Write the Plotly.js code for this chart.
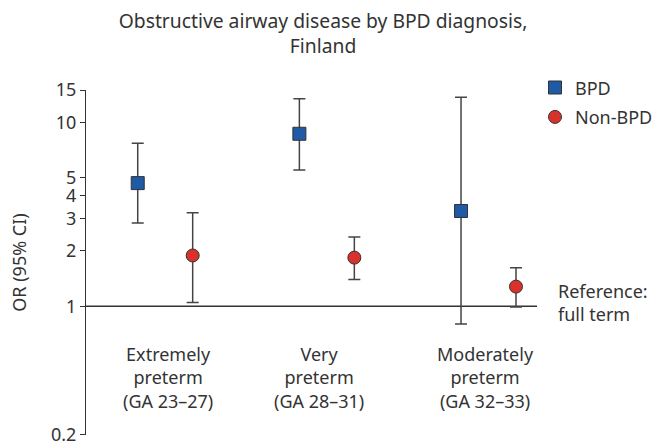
<!DOCTYPE html>
<html>
<head>
<meta charset="utf-8">
<script src="https://cdn.plot.ly/plotly-3.0.1.min.js"></script>
<style>
html,body{margin:0;padding:0;background:#fff;}
#chart{width:654px;height:443px;}
</style>
</head>
<body>
<div id="chart"></div>
<script>
// Data
const categories = ["Extremely<br>preterm<br>(GA 23–27)", "Very<br>preterm<br>(GA 28–31)", "Moderately<br>preterm<br>(GA 32–33)"];
const seriesNames = ["BPD", "Non-BPD"];
const bpdOR = [4.68, 8.68, 3.30];
const bpdUpper = [7.72, 13.45, 13.7];
const bpdLower = [2.84, 5.51, 0.80];
const nonBpdOR = [1.89, 1.84, 1.28];
const nonBpdUpper = [3.23, 2.38, 1.62];
const nonBpdLower = [1.05, 1.40, 0.99];
const yTickVals = [0.2, 1, 2, 3, 4, 5, 10, 15];
const yTickText = ["0.2", "1", "2", "3", "4", "5", "10", "15"];
const referenceValue = 1;

const FONT = "'Noto Sans', 'Source Sans Pro', sans-serif";
const TXT = "#333333";
const OFFSET = 0.17;
const LABEL_SHIFT = [3, -8, -3]; // small pixel nudges of the category captions

const idx = categories.map((_, i) => i);

function trace(name, y, up, lo, dx, symbol, color) {
  return {
    type: "scatter",
    mode: "markers",
    name: name,
    legendgroup: name,
    x: idx.map(i => i + dx),
    y: y,
    error_y: {
      type: "data",
      symmetric: false,
      array: y.map((v, i) => up[i] - v),
      arrayminus: y.map((v, i) => v - lo[i]),
      color: "#444444",
      thickness: 1.5,
      width: 6
    },
    marker: {symbol: symbol, size: 13, color: color, line: {color: "#333333", width: 1}},
    hoverinfo: "x+y"
  };
}

const data = [
  trace(seriesNames[0], bpdOR, bpdUpper, bpdLower, -OFFSET, "square", "#1f5aa6"),
  trace(seriesNames[1], nonBpdOR, nonBpdUpper, nonBpdLower, OFFSET, "circle", "#d9322d")
];

const annotations = categories.map((c, i) => ({
  x: i, xref: "x", y: 0.275, yref: "paper", yanchor: "top", xanchor: "center",
  xshift: LABEL_SHIFT[i],
  text: c, showarrow: false, align: "center",
  font: {family: FONT, size: 18, color: TXT}
}));
annotations.push({
  x: 1.042, xref: "paper", y: 0.384, yref: "paper", xanchor: "left", yanchor: "middle",
  text: "Reference:<br>full term", showarrow: false, align: "left",
  font: {family: FONT, size: 18, color: TXT}
});

const layout = {
  width: 654, height: 443,
  margin: {l: 86, r: 117, t: 90, b: 8, autoexpand: false},
  paper_bgcolor: "#ffffff", plot_bgcolor: "#ffffff",
  font: {family: FONT, size: 18, color: TXT},
  title: {
    text: "Obstructive airway disease by BPD diagnosis,<br>Finland",
    font: {family: FONT, size: 19.3, color: TXT},
    x: 0.494, xref: "container", xanchor: "center",
    y: 0.937, yref: "container", yanchor: "top"
  },
  showlegend: true,
  legend: {
    x: 535 / 654, xref: "container", xanchor: "left", y: 1.06, yanchor: "top",
    font: {family: FONT, size: 18, color: TXT},
    bgcolor: "rgba(0,0,0,0)", itemwidth: 30, tracegroupgap: 3
  },
  xaxis: {
    range: [-0.49, 2.30], showgrid: false, zeroline: false, showline: false,
    showticklabels: false, ticks: "", fixedrange: true
  },
  yaxis: {
    type: "log",
    range: [Math.log10(0.1995), Math.log10(15.02)],
    tickvals: yTickVals, ticktext: yTickText,
    ticklabeloverflow: "allow",
    showgrid: false, zeroline: false, showline: true, linecolor: "#333333", linewidth: 1,
    ticks: "outside", ticklen: 5, tickcolor: "#333333", tickwidth: 1,
    tickfont: {family: FONT, size: 18, color: TXT},
    title: {text: "OR (95% CI)", font: {family: FONT, size: 18, color: TXT}, standoff: 19}
  },
  shapes: [{
    type: "line", xref: "paper", x0: 0, x1: 1, yref: "y",
    y0: referenceValue, y1: referenceValue,
    line: {color: "#333333", width: 1.5}, layer: "below"
  }],
  annotations: annotations
};

Plotly.newPlot("chart", data, layout, {displayModeBar: false, staticPlot: true});
</script>
</body>
</html>
